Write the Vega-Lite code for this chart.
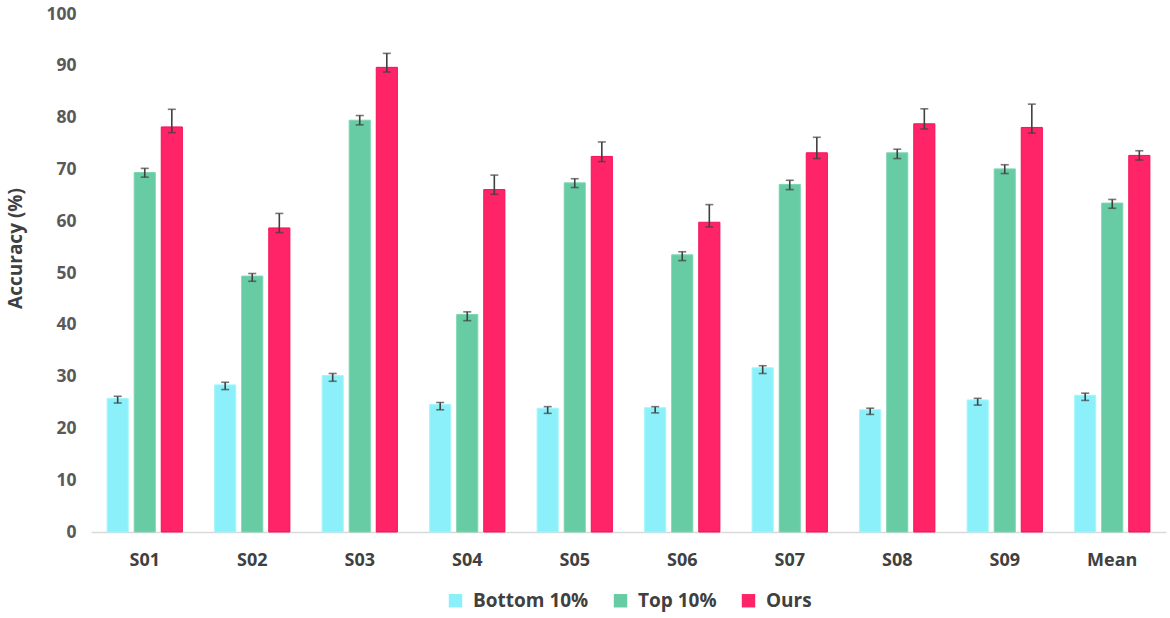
{
  "$schema": "https://vega.github.io/schema/vega-lite/v6.json",
  "width": 1075,
  "height": 518,
  "autosize": {"type": "none"},
  "padding": {"left": 91, "top": 14, "right": 4, "bottom": 86},
  "background": "white",
  "config": {
    "view": {"stroke": null},
    "font": "Open Sans",
    "axis": {"labelFont": "Open Sans", "titleFont": "Open Sans"}
  },
  "datasets": {
    "acc": [
      {"subject": "S01", "method": "Bottom 10%", "value": 25.8, "lo": 24.9, "hi": 26.2},
      {"subject": "S01", "method": "Top 10%", "value": 69.4, "lo": 68.5, "hi": 70.2},
      {"subject": "S01", "method": "Ours", "value": 78.2, "lo": 77.1, "hi": 81.6},
      {"subject": "S02", "method": "Bottom 10%", "value": 28.4, "lo": 27.5, "hi": 28.9},
      {"subject": "S02", "method": "Top 10%", "value": 49.4, "lo": 48.4, "hi": 49.9},
      {"subject": "S02", "method": "Ours", "value": 58.7, "lo": 57.8, "hi": 61.5},
      {"subject": "S03", "method": "Bottom 10%", "value": 30.2, "lo": 29.1, "hi": 30.6},
      {"subject": "S03", "method": "Top 10%", "value": 79.5, "lo": 78.6, "hi": 80.4},
      {"subject": "S03", "method": "Ours", "value": 89.7, "lo": 88.8, "hi": 92.4},
      {"subject": "S04", "method": "Bottom 10%", "value": 24.6, "lo": 23.6, "hi": 25.0},
      {"subject": "S04", "method": "Top 10%", "value": 42.0, "lo": 40.8, "hi": 42.5},
      {"subject": "S04", "method": "Ours", "value": 66.1, "lo": 65.2, "hi": 68.9},
      {"subject": "S05", "method": "Bottom 10%", "value": 23.9, "lo": 22.9, "hi": 24.2},
      {"subject": "S05", "method": "Top 10%", "value": 67.4, "lo": 66.5, "hi": 68.2},
      {"subject": "S05", "method": "Ours", "value": 72.5, "lo": 71.5, "hi": 75.3},
      {"subject": "S06", "method": "Bottom 10%", "value": 24.0, "lo": 23.0, "hi": 24.2},
      {"subject": "S06", "method": "Top 10%", "value": 53.5, "lo": 52.4, "hi": 54.1},
      {"subject": "S06", "method": "Ours", "value": 59.8, "lo": 58.9, "hi": 63.2},
      {"subject": "S07", "method": "Bottom 10%", "value": 31.7, "lo": 30.6, "hi": 32.1},
      {"subject": "S07", "method": "Top 10%", "value": 67.1, "lo": 66.1, "hi": 67.9},
      {"subject": "S07", "method": "Ours", "value": 73.2, "lo": 72.1, "hi": 76.2},
      {"subject": "S08", "method": "Bottom 10%", "value": 23.6, "lo": 22.7, "hi": 23.9},
      {"subject": "S08", "method": "Top 10%", "value": 73.2, "lo": 72.1, "hi": 73.9},
      {"subject": "S08", "method": "Ours", "value": 78.8, "lo": 77.8, "hi": 81.7},
      {"subject": "S09", "method": "Bottom 10%", "value": 25.5, "lo": 24.5, "hi": 25.8},
      {"subject": "S09", "method": "Top 10%", "value": 70.1, "lo": 69.2, "hi": 70.9},
      {"subject": "S09", "method": "Ours", "value": 78.1, "lo": 77.0, "hi": 82.6},
      {"subject": "Mean", "method": "Bottom 10%", "value": 26.4, "lo": 25.4, "hi": 26.8},
      {"subject": "Mean", "method": "Top 10%", "value": 63.5, "lo": 62.5, "hi": 64.2},
      {"subject": "Mean", "method": "Ours", "value": 72.7, "lo": 71.8, "hi": 73.6}
    ]
  },
  "data": {"name": "acc"},
  "encoding": {
    "x": {
      "field": "subject",
      "type": "nominal",
      "sort": null,
      "title": null,
      "scale": {"paddingInner": 0.3, "paddingOuter": 0.15},
      "axis": {
        "labelAngle": 0,
        "labelFontSize": 18,
        "labelFontWeight": "bold",
        "labelColor": "#404040",
        "labelPadding": 19,
        "ticks": false,
        "domainColor": "#d9d9d9",
        "domainWidth": 1.3
      }
    },
    "xOffset": {
      "field": "method",
      "type": "nominal",
      "sort": ["Bottom 10%", "Top 10%", "Ours"],
      "scale": {"paddingInner": 0.22, "paddingOuter": 0}
    }
  },
  "layer": [
    {
      "mark": {"type": "bar", "strokeWidth": 1},
      "encoding": {
        "y": {
          "field": "value",
          "type": "quantitative",
          "title": "Accuracy (%)",
          "scale": {"domain": [0, 100], "nice": false},
          "axis": {
            "values": [0, 10, 20, 30, 40, 50, 60, 70, 80, 90, 100],
            "grid": false,
            "domain": false,
            "ticks": false,
            "labelFontSize": 17.5,
            "labelFontWeight": "bold",
            "labelColor": "#595959",
            "labelPadding": 15,
            "titleFontSize": 19,
            "titleFontWeight": "bold",
            "titleColor": "#404040",
            "titlePadding": 20,
            "titleY": 234
          }
        },
        "color": {
          "field": "method",
          "type": "nominal",
          "sort": ["Bottom 10%", "Top 10%", "Ours"],
          "scale": {
            "domain": ["Bottom 10%", "Top 10%", "Ours"],
            "range": ["#8cf0fa", "#67cba4", "#ff2468"]
          },
          "legend": {
            "title": null,
            "orient": "none",
            "legendX": 355,
            "legendY": 577,
            "direction": "horizontal",
            "symbolType": "square",
            "symbolSize": 180,
            "symbolStrokeWidth": 0,
            "labelFontSize": 19,
            "labelFontWeight": "bold",
            "labelColor": "#404040",
            "labelOffset": 8,
            "columnPadding": 22
          }
        },
        "stroke": {
          "field": "method",
          "type": "nominal",
          "scale": {
            "domain": ["Bottom 10%", "Top 10%", "Ours"],
            "range": ["#a4f5fc", "#7dd6b3", "#f5105a"]
          },
          "legend": null
        }
      }
    },
    {
      "mark": {"type": "rule", "color": "#404040", "strokeWidth": 1.6},
      "encoding": {
        "y": {"field": "lo", "type": "quantitative"},
        "y2": {"field": "hi"}
      }
    },
    {
      "mark": {"type": "tick", "color": "#404040", "thickness": 1.6, "size": 8},
      "encoding": {
        "y": {"field": "lo", "type": "quantitative"}
      }
    },
    {
      "mark": {"type": "tick", "color": "#404040", "thickness": 1.6, "size": 8},
      "encoding": {
        "y": {"field": "hi", "type": "quantitative"}
      }
    }
  ]
}
